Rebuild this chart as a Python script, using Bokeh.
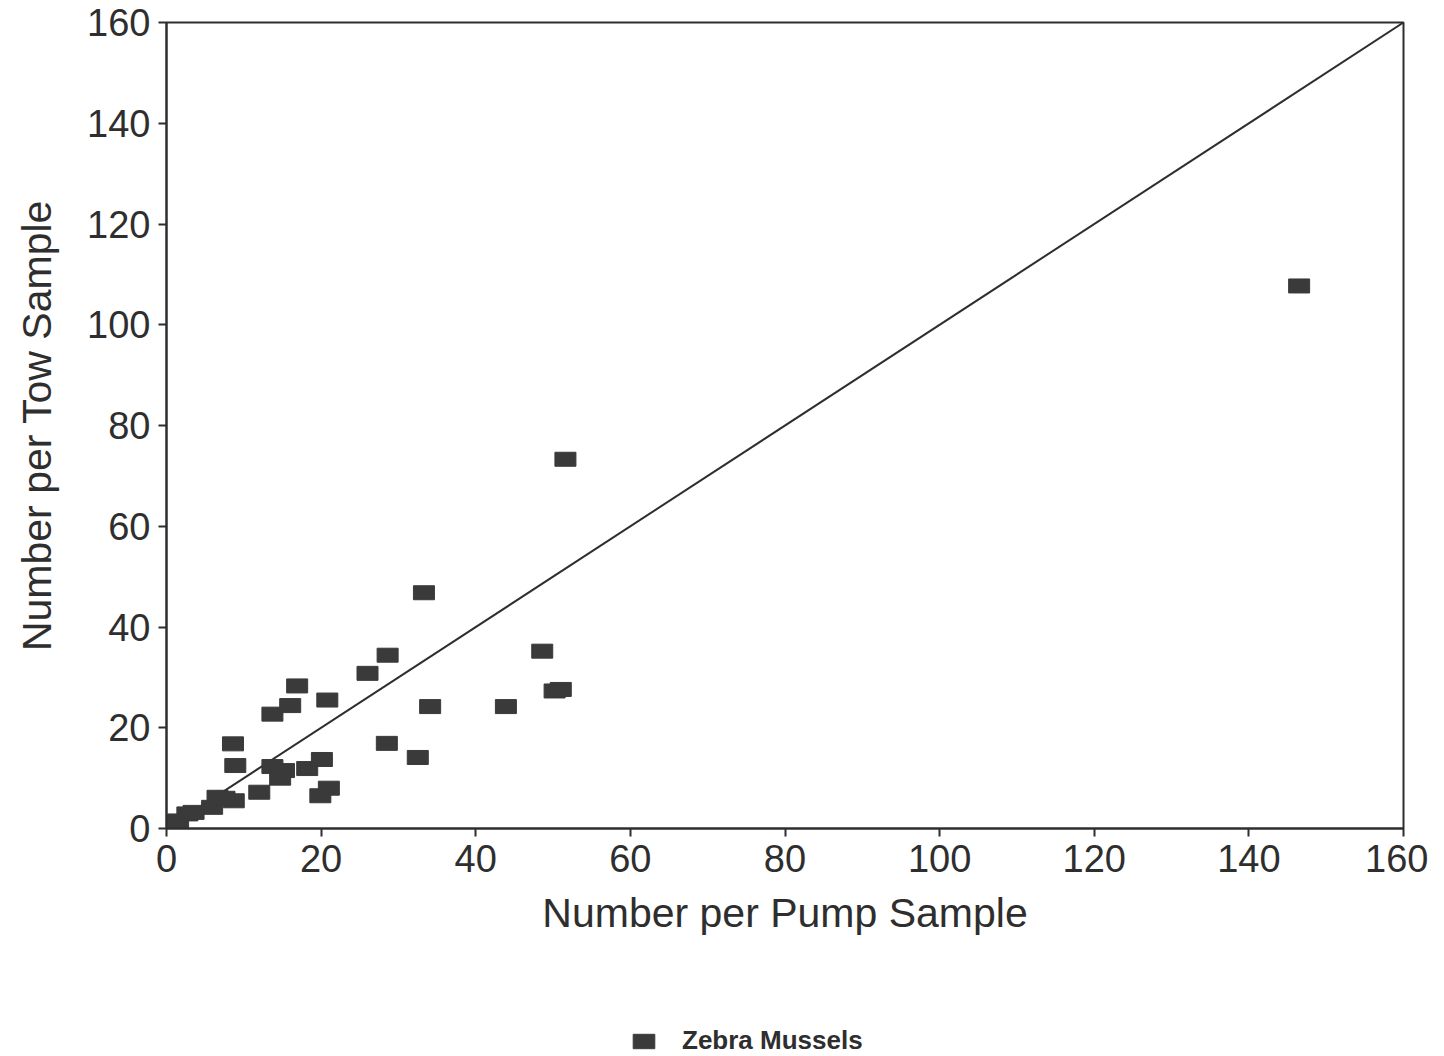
from bokeh.plotting import figure
from bokeh.layouts import column
from bokeh.models import FixedTicker, Range1d, Legend, LegendItem, ColumnDataSource
from bokeh.embed import file_html
from bokeh.resources import INLINE

# Data
pump = [146.5, 51.6, 33.3, 48.6, 50.2, 51.0, 28.6, 26.0, 34.1, 43.9, 28.5, 32.5,
        20.8, 16.9, 16.0, 13.7, 8.6, 8.9, 13.7, 15.2, 14.7, 18.2, 20.1, 19.9,
        21.0, 12.0, 6.6, 8.7, 5.9, 7.5, 3.5, 2.7, 1.5, 0.5, 0.0, 1.0]
tow = [107.7, 73.3, 46.8, 35.2, 27.3, 27.6, 34.4, 30.8, 24.2, 24.2, 16.9, 14.1,
       25.5, 28.3, 24.4, 22.7, 16.8, 12.5, 12.3, 11.5, 10.0, 11.9, 13.7, 6.5,
       8.0, 7.2, 6.2, 5.5, 4.2, 6.0, 3.2, 2.9, 1.5, 1.0, 0.4, 0.7]
ref_line_x = [0, 160]
ref_line_y = [0, 160]
ticks = [0, 20, 40, 60, 80, 100, 120, 140, 160]
series_name = "Zebra Mussels"

FONT = "Liberation Sans"
INK = "#2e2e2e"
MARK = "#3a3a3a"

W = 1428
H_MAIN = 1000
H_LEG = 56

p = figure(width=W, height=H_MAIN, output_backend="svg", toolbar_location=None,
           x_range=Range1d(0, 160), y_range=Range1d(0, 160),
           min_border_left=166, min_border_right=W - 1403, min_border_top=22,
           min_border_bottom=H_MAIN - 828)

p.background_fill_color = "white"
p.border_fill_color = "white"
p.grid.visible = False
p.outline_line_color = INK
p.outline_line_width = 2

for ax in (p.xaxis[0], p.yaxis[0]):
    ax.ticker = FixedTicker(ticks=ticks)
    ax.axis_line_color = INK
    ax.axis_line_width = 2
    ax.major_tick_line_color = INK
    ax.major_tick_line_width = 2
    ax.major_tick_in = 0
    ax.major_tick_out = 8
    ax.minor_tick_line_color = None
    ax.major_label_text_font = FONT
    ax.major_label_text_font_size = "38px"
    ax.major_label_text_color = INK
    ax.axis_label_text_font = FONT
    ax.axis_label_text_font_size = "41px"
    ax.axis_label_text_font_style = "normal"
    ax.axis_label_text_color = INK

p.xaxis.axis_label = "Number per Pump Sample"
p.yaxis.axis_label = "Number per Tow Sample"
p.xaxis.major_label_standoff = 8
p.yaxis.major_label_standoff = 8
p.xaxis.axis_label_standoff = 15
p.yaxis.axis_label_standoff = 24

p.line(ref_line_x, ref_line_y, line_color=INK, line_width=2)

src = ColumnDataSource(dict(x=pump, y=tow))
p.rect("x", "y", width=21, height=14, width_units="screen", height_units="screen",
       source=src, fill_color=MARK, line_color=MARK, line_width=1)

# Legend strip below the chart (its own view shows no data: ranges lie outside the data)
pl = figure(width=W, height=H_LEG, output_backend="svg", toolbar_location=None,
            x_range=Range1d(-3, -2), y_range=Range1d(-3, -2),
            x_axis_location=None, y_axis_location=None,
            min_border_left=166, min_border_right=W - 1403, min_border_top=0, min_border_bottom=0)
pl.grid.visible = False
pl.outline_line_color = None
pl.background_fill_color = "white"
pl.border_fill_color = "white"
rl = pl.rect("x", "y", width=21, height=14, width_units="screen", height_units="screen",
             source=src, fill_color=MARK, line_color=MARK, line_width=1)

legend = Legend(items=[LegendItem(label=series_name, renderers=[rl])],
                location=(630 - 166, 0), orientation="horizontal",
                border_line_color=None, background_fill_alpha=0,
                glyph_width=27, glyph_height=18, label_standoff=25,
                label_height=26, padding=0, margin=0,
                label_text_font=FONT, label_text_font_size="26px",
                label_text_font_style="bold", label_text_color=INK)
pl.add_layout(legend, "center")

layout = column(p, pl, spacing=0)
open("out.html", "w").write(file_html(layout, INLINE))
